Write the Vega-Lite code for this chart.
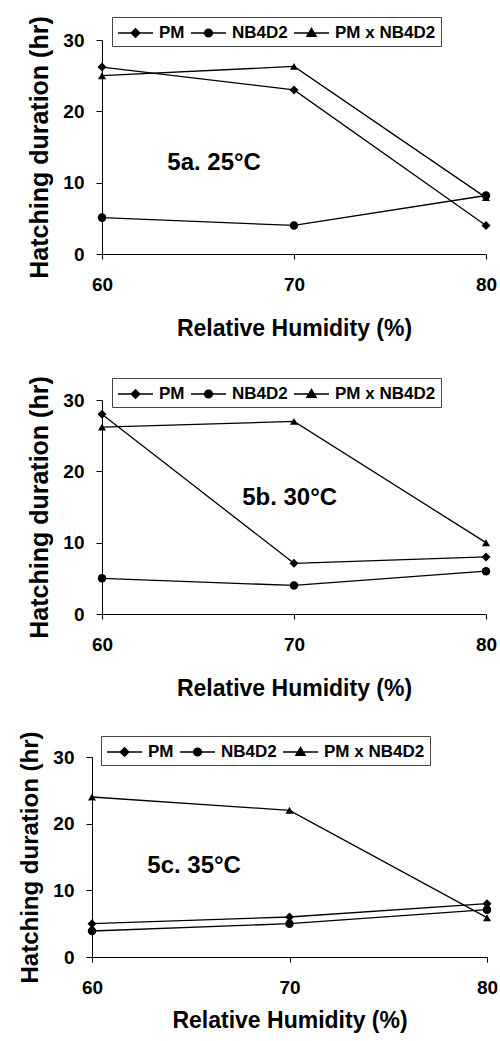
{
  "$schema": "https://vega.github.io/schema/vega-lite/v6.json",
  "background": "white",
  "padding": {"left": 18, "top": 15, "right": 5, "bottom": 5},
  "spacing": 31,
  "config": {
    "font": "Liberation Sans",
    "view": {"stroke": null},
    "axis": {
      "grid": false,
      "domainColor": "black",
      "tickColor": "black",
      "labelColor": "black",
      "titleColor": "black",
      "labelFontWeight": "bold",
      "titleFontWeight": "bold",
      "labelFontSize": 19,
      "domainWidth": 1,
      "tickWidth": 1
    },
    "axisX": {"titleFontSize": 23, "tickSize": 5, "labelPadding": 16, "titlePadding": 23, "labelFlush": false},
    "axisY": {"titleFontSize": 25, "tickSize": 6, "labelPadding": 12, "titlePadding": 10},
    "legend": {
      "orient": "none",
      "direction": "horizontal",
      "strokeColor": "#444",
      "padding": 5,
      "symbolSize": 400,
      "labelFont": "Liberation Sans",
      "labelFontWeight": "bold",
      "labelFontSize": 17,
      "labelColor": "black",
      "labelOffset": 20,
      "columnPadding": 3,
      "symbolOpacity": 1
    }
  },
  "datasets": {
    "obs": [
      {"panel": "5a", "series": "PM", "rh": 60, "hours": 26.2},
      {"panel": "5a", "series": "PM", "rh": 70, "hours": 23},
      {"panel": "5a", "series": "PM", "rh": 80, "hours": 4},
      {"panel": "5a", "series": "NB4D2", "rh": 60, "hours": 5.1},
      {"panel": "5a", "series": "NB4D2", "rh": 70, "hours": 4},
      {"panel": "5a", "series": "NB4D2", "rh": 80, "hours": 8.2},
      {"panel": "5a", "series": "PM x NB4D2", "rh": 60, "hours": 25},
      {"panel": "5a", "series": "PM x NB4D2", "rh": 70, "hours": 26.3},
      {"panel": "5a", "series": "PM x NB4D2", "rh": 80, "hours": 7.9},
      {"panel": "5b", "series": "PM", "rh": 60, "hours": 28},
      {"panel": "5b", "series": "PM", "rh": 70, "hours": 7.1},
      {"panel": "5b", "series": "PM", "rh": 80, "hours": 8},
      {"panel": "5b", "series": "NB4D2", "rh": 60, "hours": 5},
      {"panel": "5b", "series": "NB4D2", "rh": 70, "hours": 4},
      {"panel": "5b", "series": "NB4D2", "rh": 80, "hours": 6},
      {"panel": "5b", "series": "PM x NB4D2", "rh": 60, "hours": 26.2},
      {"panel": "5b", "series": "PM x NB4D2", "rh": 70, "hours": 27},
      {"panel": "5b", "series": "PM x NB4D2", "rh": 80, "hours": 10},
      {"panel": "5c", "series": "PM", "rh": 60, "hours": 5},
      {"panel": "5c", "series": "PM", "rh": 70, "hours": 6},
      {"panel": "5c", "series": "PM", "rh": 80, "hours": 8},
      {"panel": "5c", "series": "NB4D2", "rh": 60, "hours": 3.9},
      {"panel": "5c", "series": "NB4D2", "rh": 70, "hours": 5},
      {"panel": "5c", "series": "NB4D2", "rh": 80, "hours": 7.1},
      {"panel": "5c", "series": "PM x NB4D2", "rh": 60, "hours": 24},
      {"panel": "5c", "series": "PM x NB4D2", "rh": 70, "hours": 22},
      {"panel": "5c", "series": "PM x NB4D2", "rh": 80, "hours": 5.9}
    ],
    "notes": [
      {"panel": "5a", "label": "5a. 25°C", "rh": 63.4, "hours": 12.8},
      {"panel": "5b", "label": "5b. 30°C", "rh": 67.3, "hours": 16.2},
      {"panel": "5c", "label": "5c. 35°C", "rh": 62.8, "hours": 13.6}
    ]
  },
  "vconcat": [
    {
      "spacing": 35,
      "vconcat": [
        {
          "width": 384,
          "height": 214,
          "resolve": {"scale": {"shape": "independent", "size": "independent"}},
          "layer": [
            {
              "data": {"name": "obs"},
              "transform": [{"filter": "datum.panel == '5a'"}],
              "mark": {"type": "line", "color": "black", "strokeWidth": 1.3},
              "encoding": {
                "x": {"field": "rh", "type": "quantitative", "scale": {"domain": [60, 80], "nice": false, "zero": false}, "axis": {"values": [60, 70, 80], "title": "Relative Humidity (%)"}},
                "y": {"field": "hours", "type": "quantitative", "scale": {"domain": [0, 30], "nice": false}, "axis": {"values": [0, 10, 20, 30], "title": "Hatching duration (hr)"}},
                "detail": {"field": "series"}
              }
            },
            {
              "data": {"name": "obs"},
              "transform": [{"filter": "datum.panel == '5a'"}],
              "mark": {"type": "point", "filled": true, "color": "black", "opacity": 1},
              "encoding": {
                "x": {"field": "rh", "type": "quantitative"},
                "y": {"field": "hours", "type": "quantitative"},
                "shape": {"field": "series", "scale": {"domain": ["PM", "NB4D2", "PM x NB4D2"], "range": ["diamond", "circle", "triangle-up"]}, "legend": null},
                "size": {"field": "series", "scale": {"domain": ["PM", "NB4D2", "PM x NB4D2"], "range": [81, 64, 110]}, "legend": null}
              }
            },
            {
              "data": {"name": "obs"},
              "transform": [{"filter": "datum.panel == '5a'"}],
              "mark": {"type": "point", "fill": "black", "stroke": "black", "strokeWidth": 1, "opacity": 0},
              "encoding": {
                "x": {"field": "rh", "type": "quantitative"},
                "y": {"field": "hours", "type": "quantitative"},
                "shape": {
                  "field": "series",
                  "scale": {"domain": ["PM", "NB4D2", "PM x NB4D2"], "range": [
                    "M-1,0L2.5,0M0.75,-0.42L1.17,0L0.75,0.42L0.33,0Z",
                    "M-1,0L2.5,0M0.37,0A0.38,0.38 0 1,0 1.13,0A0.38,0.38 0 1,0 0.37,0Z",
                    "M-1,0L2.5,0M0.75,-0.45L1.2,0.33L0.3,0.33Z"
                  ]},
                  "legend": {"title": null, "legendX": 10, "legendY": -23}
                }
              }
            },
            {
              "data": {"name": "notes"},
              "transform": [{"filter": "datum.panel == '5a'"}],
              "mark": {"type": "text", "align": "left", "baseline": "middle", "fontSize": 24, "fontWeight": "bold", "color": "black"},
              "encoding": {
                "x": {"field": "rh", "type": "quantitative"},
                "y": {"field": "hours", "type": "quantitative"},
                "text": {"field": "label"}
              }
            }
          ]
        },
        {
          "width": 384,
          "height": 214,
          "resolve": {"scale": {"shape": "independent", "size": "independent"}},
          "layer": [
            {
              "data": {"name": "obs"},
              "transform": [{"filter": "datum.panel == '5b'"}],
              "mark": {"type": "line", "color": "black", "strokeWidth": 1.3},
              "encoding": {
                "x": {"field": "rh", "type": "quantitative", "scale": {"domain": [60, 80], "nice": false, "zero": false}, "axis": {"values": [60, 70, 80], "title": "Relative Humidity (%)"}},
                "y": {"field": "hours", "type": "quantitative", "scale": {"domain": [0, 30], "nice": false}, "axis": {"values": [0, 10, 20, 30], "title": "Hatching duration (hr)"}},
                "detail": {"field": "series"}
              }
            },
            {
              "data": {"name": "obs"},
              "transform": [{"filter": "datum.panel == '5b'"}],
              "mark": {"type": "point", "filled": true, "color": "black", "opacity": 1},
              "encoding": {
                "x": {"field": "rh", "type": "quantitative"},
                "y": {"field": "hours", "type": "quantitative"},
                "shape": {"field": "series", "scale": {"domain": ["PM", "NB4D2", "PM x NB4D2"], "range": ["diamond", "circle", "triangle-up"]}, "legend": null},
                "size": {"field": "series", "scale": {"domain": ["PM", "NB4D2", "PM x NB4D2"], "range": [81, 64, 110]}, "legend": null}
              }
            },
            {
              "data": {"name": "obs"},
              "transform": [{"filter": "datum.panel == '5b'"}],
              "mark": {"type": "point", "fill": "black", "stroke": "black", "strokeWidth": 1, "opacity": 0},
              "encoding": {
                "x": {"field": "rh", "type": "quantitative"},
                "y": {"field": "hours", "type": "quantitative"},
                "shape": {
                  "field": "series",
                  "scale": {"domain": ["PM", "NB4D2", "PM x NB4D2"], "range": [
                    "M-1,0L2.5,0M0.75,-0.42L1.17,0L0.75,0.42L0.33,0Z",
                    "M-1,0L2.5,0M0.37,0A0.38,0.38 0 1,0 1.13,0A0.38,0.38 0 1,0 0.37,0Z",
                    "M-1,0L2.5,0M0.75,-0.45L1.2,0.33L0.3,0.33Z"
                  ]},
                  "legend": {"title": null, "legendX": 10, "legendY": -22}
                }
              }
            },
            {
              "data": {"name": "notes"},
              "transform": [{"filter": "datum.panel == '5b'"}],
              "mark": {"type": "text", "align": "left", "baseline": "middle", "fontSize": 24, "fontWeight": "bold", "color": "black"},
              "encoding": {
                "x": {"field": "rh", "type": "quantitative"},
                "y": {"field": "hours", "type": "quantitative"},
                "text": {"field": "label"}
              }
            }
          ]
        }
      ]
    },
    {
      "width": 385,
      "height": 200,
      "resolve": {"scale": {"shape": "independent", "size": "independent"}},
      "layer": [
        {
          "data": {"name": "obs"},
          "transform": [{"filter": "datum.panel == '5c'"}],
          "mark": {"type": "line", "color": "black", "strokeWidth": 1.3},
          "encoding": {
            "x": {"field": "rh", "type": "quantitative", "scale": {"domain": [60, 80], "nice": false, "zero": false, "range": [-10, 385]}, "axis": {"values": [60, 70, 80], "title": "Relative Humidity (%)", "titlePadding": 12}},
            "y": {"field": "hours", "type": "quantitative", "scale": {"domain": [0, 30], "nice": false}, "axis": {"values": [0, 10, 20, 30], "title": "Hatching duration (hr)", "titleFontSize": 24, "offset": 10}},
            "detail": {"field": "series"}
          }
        },
        {
          "data": {"name": "obs"},
          "transform": [{"filter": "datum.panel == '5c'"}],
          "mark": {"type": "point", "filled": true, "color": "black", "opacity": 1},
          "encoding": {
            "x": {"field": "rh", "type": "quantitative"},
            "y": {"field": "hours", "type": "quantitative"},
            "shape": {"field": "series", "scale": {"domain": ["PM", "NB4D2", "PM x NB4D2"], "range": ["diamond", "circle", "triangle-up"]}, "legend": null},
            "size": {"field": "series", "scale": {"domain": ["PM", "NB4D2", "PM x NB4D2"], "range": [81, 64, 110]}, "legend": null}
          }
        },
        {
          "data": {"name": "obs"},
          "transform": [{"filter": "datum.panel == '5c'"}],
          "mark": {"type": "point", "fill": "black", "stroke": "black", "strokeWidth": 1, "opacity": 0},
          "encoding": {
            "x": {"field": "rh", "type": "quantitative"},
            "y": {"field": "hours", "type": "quantitative"},
            "shape": {
              "field": "series",
              "scale": {"domain": ["PM", "NB4D2", "PM x NB4D2"], "range": [
                "M-1,0L2.5,0M0.75,-0.42L1.17,0L0.75,0.42L0.33,0Z",
                "M-1,0L2.5,0M0.37,0A0.38,0.38 0 1,0 1.13,0A0.38,0.38 0 1,0 0.37,0Z",
                "M-1,0L2.5,0M0.75,-0.45L1.2,0.33L0.3,0.33Z"
              ]},
              "legend": {"title": null, "legendX": -1, "legendY": -21}
            }
          }
        },
        {
          "data": {"name": "notes"},
          "transform": [{"filter": "datum.panel == '5c'"}],
          "mark": {"type": "text", "align": "left", "baseline": "middle", "fontSize": 24, "fontWeight": "bold", "color": "black"},
          "encoding": {
            "x": {"field": "rh", "type": "quantitative"},
            "y": {"field": "hours", "type": "quantitative"},
            "text": {"field": "label"}
          }
        }
      ]
    }
  ]
}
